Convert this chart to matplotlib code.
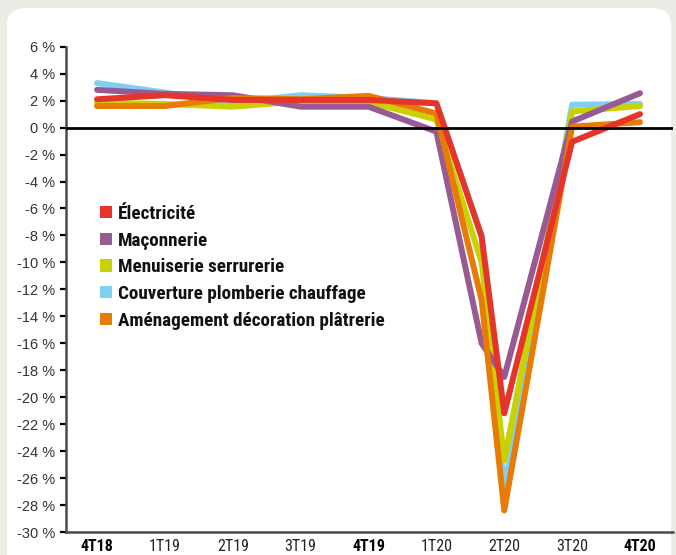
import matplotlib
matplotlib.use("Agg")
import matplotlib.pyplot as plt
from matplotlib import font_manager as fm
from matplotlib.patches import FancyBboxPatch, Patch

# ---------------- data ----------------
quarter_labels = ["4T18", "1T19", "2T19", "3T19", "4T19", "1T20", "2T20", "3T20", "4T20"]
bold_labels = ["4T18", "4T19", "4T20"]
# measurement points in months since 4T18 (one extra point during 2T20)
months = [0, 3, 6, 9, 12, 15, 17, 18, 21, 24]

series_names = ["Électricité", "Maçonnerie", "Menuiserie serrurerie",
                "Couverture plomberie chauffage", "Aménagement décoration plâtrerie"]
electricite = [2.1, 2.4, 2.05, 2.05, 2.05, 1.8, -8.1, -21.2, -1.05, 1.0]
maconnerie = [2.8, 2.5, 2.4, 1.55, 1.55, -0.3, -16.0, -18.5, 0.45, 2.55]
menuiserie = [1.85, 1.75, 1.55, 1.95, 1.9, 0.6, -10.0, -24.7, 1.2, 1.6]
couverture = [3.3, 2.6, 1.85, 2.4, 2.2, 1.8, -8.0, -26.9, 1.7, 1.75]
amenagement = [1.6, 1.6, 2.2, 2.1, 2.35, 1.05, -12.8, -28.4, 0.07, 0.4]

y_ticks = list(range(-30, 7, 2))

# ---------------- style ----------------
colors = ["#E5352B", "#975A92", "#C9D200", "#7FCFF2", "#E87B05"]
draw_order = [3, 2, 1, 4, 0]

# pick a condensed font if one is installed
entries = fm.fontManager.ttflist
names = {f.name for f in entries}
narrow_family, narrow_stretch, narrow_scale = None, "normal", 1.0
for cand in ["Liberation Sans Narrow", "Roboto Condensed", "Open Sans Condensed",
             "Noto Sans Condensed", "DejaVu Sans Condensed", "Arial Narrow"]:
    if cand in names:
        narrow_family = cand
        break
if narrow_family is None:
    for pref in ["Noto Sans", "Roboto", "Open Sans", "DejaVu Sans", "Liberation Sans"]:
        cond = [f for f in entries if f.name == pref]
        if any(isinstance(f.stretch, str) and "condensed" in f.stretch for f in cond):
            narrow_family, narrow_stretch = pref, "condensed"
            break
if narrow_family is None:
    narrow_family = "Liberation Sans" if "Liberation Sans" in names else "DejaVu Sans"
    narrow_scale = 0.86
regular = "Liberation Sans" if "Liberation Sans" in names else "DejaVu Sans"

W, H = 676, 555
fig = plt.figure(figsize=(W / 100, H / 100), dpi=100)
fig.patch.set_facecolor("#ECEBE6")

# white rounded panel
panel = FancyBboxPatch((7 / W, -0.1), (671 - 7) / W, 1.1 - 8 / H,
                       boxstyle="round,pad=0,rounding_size=0.03",
                       transform=fig.transFigure, facecolor="white",
                       edgecolor="none", zorder=-10)
fig.patches.append(panel)

ax_left, ax_right = 66 / W, 673 / W
ax_bottom, ax_top = (H - 532) / H, (H - 46.7) / H
ax = fig.add_axes([ax_left, ax_bottom, ax_right - ax_left, ax_top - ax_bottom])
ax.set_zorder(5)
ax.set_facecolor("none")

all_series = [electricite, maconnerie, menuiserie, couverture, amenagement]
x = [m / 3 for m in months]
for k, i in enumerate(draw_order):
    ax.plot(x, all_series[i], color=colors[i], lw=4.3,
            solid_capstyle="round", solid_joinstyle="round", zorder=3 + k)

ax.axhline(0, color="black", lw=2.0, zorder=10)

ax.set_xlim(-0.457, 8.486)
ax.set_ylim(-30, 6)

ax.set_yticks(y_ticks)
ax.set_yticklabels([f"{v} %" for v in y_ticks], fontfamily=regular, fontsize=10.5, color="#333333")
ax.tick_params(axis="y", direction="out", length=4, width=1.6, color="black", pad=4)

ax.set_xticks(range(len(quarter_labels)))
ax.set_xticklabels(quarter_labels, fontfamily=narrow_family, fontstretch=narrow_stretch,
                   fontsize=11.5 * narrow_scale, color="#222222")
for t in ax.get_xticklabels():
    if t.get_text() in bold_labels:
        t.set_fontweight("bold")
        t.set_color("black")
ax.tick_params(axis="x", length=0, pad=5)

for s in ["top", "right"]:
    ax.spines[s].set_visible(False)
for s in ["left", "bottom"]:
    ax.spines[s].set_color("#4a4a4a")
    ax.spines[s].set_linewidth(1.8)

handles = [Patch(facecolor=colors[i], edgecolor="none", label=series_names[i])
           for i in range(len(series_names))]
leg = ax.legend(handles=handles, loc="upper left",
                bbox_to_anchor=((100 - 66) / (673 - 66), (532 - 205) / (532 - 46.7)),
                frameon=False, borderpad=0, borderaxespad=0,
                handlelength=0.6, handleheight=0.6, handletextpad=0.35,
                labelspacing=0.45 / narrow_scale,
                prop=fm.FontProperties(family=narrow_family, stretch=narrow_stretch,
                                       weight="bold", size=13.8 * narrow_scale))
for t in leg.get_texts():
    t.set_color("#111111")

fig.savefig("out.png", dpi=100, facecolor=fig.get_facecolor())
